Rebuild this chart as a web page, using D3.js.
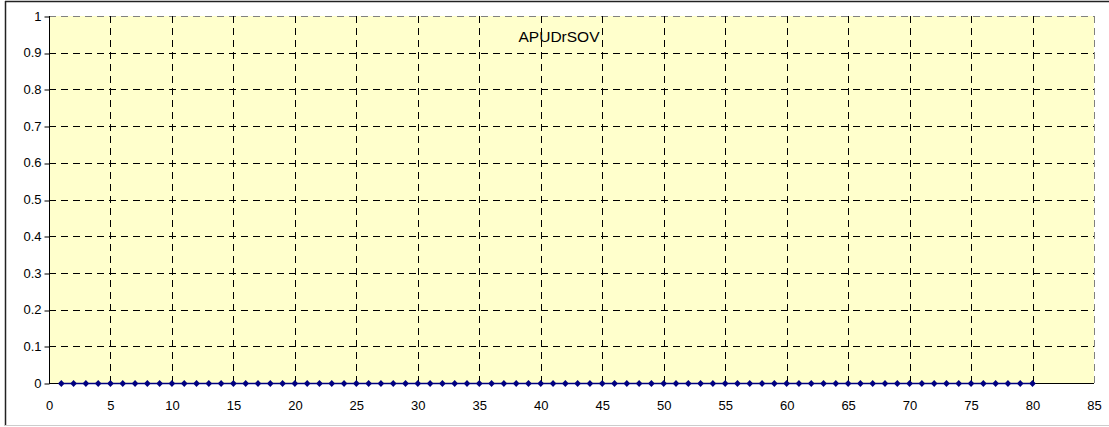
<!DOCTYPE html>
<html>
<head>
<meta charset="utf-8">
<script src="https://cdn.jsdelivr.net/npm/d3@7"></script>
<style>
  html, body { margin: 0; padding: 0; background: #fff; }
  svg { display: block; font-family: "Liberation Sans", Arial, sans-serif; }
</style>
</head>
<body>
<svg id="chart" width="1109" height="427"></svg>
<script>
// Series: sample index 1..80, all readings at zero
const seriesName = "APUDrSOV";
const xValues = d3.range(1, 81);
const yValues = [
  0,0,0,0,0,0,0,0,0,0, 0,0,0,0,0,0,0,0,0,0,
  0,0,0,0,0,0,0,0,0,0, 0,0,0,0,0,0,0,0,0,0,
  0,0,0,0,0,0,0,0,0,0, 0,0,0,0,0,0,0,0,0,0,
  0,0,0,0,0,0,0,0,0,0, 0,0,0,0,0,0,0,0,0,0
];
const xTicks = d3.range(0, 86, 5);
const yTicks = [0, 0.1, 0.2, 0.3, 0.4, 0.5, 0.6, 0.7, 0.8, 0.9, 1];

const svg = d3.select("#chart");
const W = 1109, H = 427;
const plot = { left: 49, top: 16, right: 1094, bottom: 383 };
const FONT = "Liberation Sans, Arial, sans-serif";

// Outer chart frame
svg.append("line").attr("x1", 5.5).attr("x2", 5.5).attr("y1", 1).attr("y2", 426).attr("stroke", "#222").attr("stroke-width", 1.5);
svg.append("line").attr("x1", 5).attr("x2", W).attr("y1", 1.5).attr("y2", 1.5).attr("stroke", "#222").attr("stroke-width", 1.5);
svg.append("line").attr("x1", 5).attr("x2", W).attr("y1", 425.5).attr("y2", 425.5).attr("stroke", "#ccc").attr("stroke-width", 1);

const x = d3.scaleLinear().domain([0, 85]).range([plot.left, plot.right]);
const y = d3.scaleLinear().domain([0, 1]).range([plot.bottom, plot.top]);

// Plot background
svg.append("rect")
  .attr("x", plot.left).attr("y", plot.top)
  .attr("width", plot.right - plot.left).attr("height", plot.bottom - plot.top)
  .attr("fill", "#FFFFCC");

// Dashed gridlines
const grid = svg.append("g").attr("stroke-dasharray", "7,5").attr("stroke-width", 1);
grid.selectAll(".hg").data(yTicks.filter(d => d > 0)).join("line")
  .attr("x1", plot.left).attr("x2", plot.right)
  .attr("y1", d => Math.round(y(d)) + 0.5).attr("y2", d => Math.round(y(d)) + 0.5)
  .attr("stroke", d => d === 1 ? "#808080" : "#000");
grid.selectAll(".vg").data(xTicks.filter(d => d > 0)).join("line")
  .attr("x1", d => Math.round(x(d)) + 0.5).attr("x2", d => Math.round(x(d)) + 0.5)
  .attr("y1", plot.top).attr("y2", plot.bottom)
  .attr("stroke", d => d === 85 ? "#808080" : "#000");

// Axes
const yAxis = d3.axisLeft(y).tickValues(yTicks).tickSize(5).tickPadding(3).tickFormat(d => d3.format("~g")(d));
const xAxis = d3.axisBottom(x).tickValues(xTicks).tickSize(0).tickPadding(17).tickFormat(d3.format("d"));

const gy = svg.append("g").attr("transform", `translate(${plot.left + 0.5},0)`).call(yAxis);
const gx = svg.append("g").attr("transform", `translate(0,${plot.bottom + 0.5})`).call(xAxis);
[gx, gy].forEach(g => {
  g.attr("font-size", null).attr("font-family", null);
  g.select(".domain").remove();
  g.selectAll(".tick line").attr("stroke", "#000");
  g.selectAll(".tick text").attr("fill", "#000").style("font-size", "13px").style("font-family", FONT);
});
gy.selectAll(".tick line").attr("transform", d => `translate(0,${Math.round(y(d)) + 0.5 - y(d)})`);

// Axis lines
svg.append("line").attr("x1", plot.left + 0.5).attr("x2", plot.left + 0.5).attr("y1", plot.top).attr("y2", plot.bottom + 0.5).attr("stroke", "#000");
svg.append("line").attr("x1", plot.left).attr("x2", plot.right).attr("y1", plot.bottom + 0.5).attr("y2", plot.bottom + 0.5).attr("stroke", "#000");

// Series line and diamond markers
const pts = xValues.map((xv, i) => [xv, yValues[i]]);
svg.append("path")
  .datum(pts)
  .attr("fill", "none").attr("stroke", "#000080").attr("stroke-width", 1.5)
  .attr("d", d3.line().x(d => x(d[0])).y(d => y(d[1]) + 0.5));

const diamondPath = "M0,-3.6L3.3,0L0,3.6L-3.3,0Z";
svg.append("g").selectAll("path").data(pts).join("path")
  .attr("transform", d => `translate(${x(d[0])},${y(d[1]) + 0.5})`)
  .attr("d", diamondPath)
  .attr("fill", "#000080");

// Series title
svg.append("text")
  .attr("x", 559).attr("y", 42)
  .attr("text-anchor", "middle")
  .style("font-size", "15.5px")
  .style("font-family", FONT)
  .attr("fill", "#000")
  .text(seriesName);
</script>
</body>
</html>
